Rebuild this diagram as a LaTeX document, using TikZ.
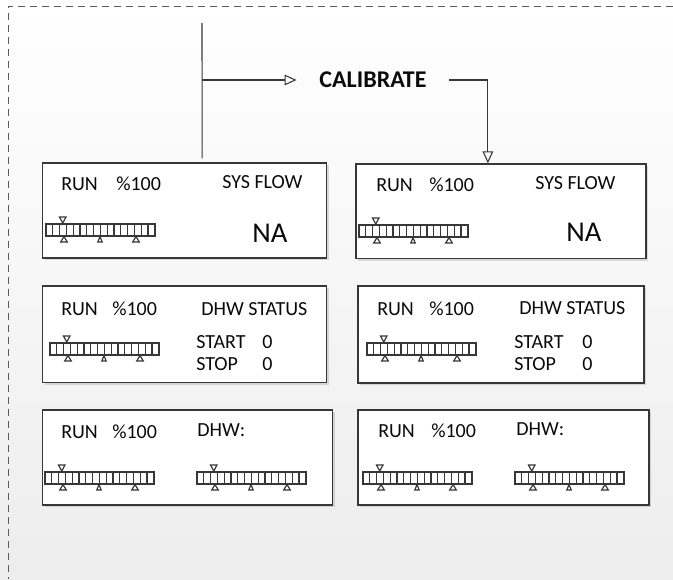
\documentclass[tikz,border=0pt]{standalone}
\usepackage{fontspec}
\setmainfont{Carlito}
\usepackage{xcolor}
\definecolor{frameGray}{RGB}{90,90,90}
\definecolor{lineGray}{RGB}{55,55,55}
\definecolor{bgGray}{RGB}{237,237,237}
\definecolor{inkBlack}{RGB}{10,10,10}
\usepackage{tikz}
\usetikzlibrary{arrows.meta,positioning,fit,shadows,calc}

\tikzset{
  panel/.style={draw=lineGray, line width=1pt, fill=white, inner sep=0pt,
    drop shadow={shadow xshift=1.8pt, shadow yshift=-1.8pt, opacity=0.22, fill=black!60}},
  lbl/.style={anchor=base west, inner sep=0pt, text=inkBlack, font=\fontsize{15}{18}\selectfont},
  bigval/.style={lbl, font=\fontsize{21.5}{25}\selectfont},
  calib/.style={inner xsep=17pt, inner ysep=0pt, text=inkBlack, font=\fontsize{18}{21}\selectfont\bfseries},
  wire/.style={draw=lineGray, line width=0.8pt},
  gauge/.pic={
    \draw[lineGray, line width=1.5pt] (0,0) -- (109,0);
    \draw[lineGray, line width=1pt] (0,0) rectangle (109,12);
    \foreach \k in {1,...,15}
      \draw[lineGray, line width=1pt] (\k*6.8,0) -- (\k*6.8,12);
    \draw[lineGray, line width=0.9pt] (13.5,-7) -- (20,-7) -- (16.75,-1) -- cycle;
    \foreach \m/\w in {18/3.3, 54/2.2, 90/3.3}
      \draw[lineGray, line width=0.9pt, fill=white] (\m-\w,18) -- (\m+\w,18) -- (\m,12.5) -- cycle;
  }
}

\begin{document}
\begin{tikzpicture}[x=0.75pt, y=-0.75pt]
  \useasboundingbox (0,0) rectangle (673,579);
  \fill[top color=white, bottom color=bgGray] (0,0) rectangle (673,579);
  \draw[frameGray, dash pattern=on 5.5pt off 3.5pt, line width=0.6pt] (673,6) -- (8,6) -- (8,579);

  % display panels
  \node[panel, fit={(42.7,163) (326.7,258)}] (sysL) {};
  \node[panel, fit={(356,164) (646,258.7)}] (sysR) {};
  \node[panel, fit={(42.7,286) (326.7,382.7)}] (dhwL) {};
  \node[panel, fit={(358,286) (644,383)}] (dhwR) {};
  \node[panel, fit={(42.7,410) (332.7,505)}] (mixL) {};
  \node[panel, fit={(358,410) (649,505)}] (mixR) {};

  % calibrate branch
  \coordinate (feed) at (202,23);
  \coordinate (split) at (202,80);
  \node[calib] (cal) at (373,80) {CALIBRATE};
  \draw[wire, shorten >=3pt] (feed) -- ($(sysL.north west)!0.561!(sysL.north east)$);
  \draw[wire, -{Triangle[open, length=9pt, width=8pt]}] (split) -- (cal.west);
  \draw[wire, -{Triangle[open, length=9pt, width=8pt]}] (cal.east) -| ($(sysR.north west)!0.455!(sysR.north east)$);

  % row 1
  \node[lbl] (sysLrun) at (61,190) {RUN};
  \node[lbl] (sysLpct) at (116,190) {\%100};
  \node[lbl] (sysLtitle) at (222,188) {SYS FLOW};
  \node[bigval] (sysLval) at (252,242) {NA};
  \pic at (46,224) {gauge};
  \node[lbl] (sysRrun) at (376,191.5) {RUN};
  \node[lbl] (sysRpct) at (429,191.5) {\%100};
  \node[lbl] (sysRtitle) at (535,189) {SYS FLOW};
  \node[bigval] (sysRval) at (566,241.5) {NA};
  \pic at (359,225) {gauge};

  % row 2
  \node[lbl] (dhwLrun) at (61,315) {RUN};
  \node[lbl] (dhwLpct) at (112,315) {\%100};
  \node[lbl] (dhwLtitle) at (201,315) {DHW STATUS};
  \node[lbl] (dhwLstart) at (196,348) {START};
  \node[lbl] (dhwLstop) at (196,370.7) {STOP};
  \node[lbl] (dhwLstartv) at (262,348) {0};
  \node[lbl] (dhwLstopv) at (262,370.7) {0};
  \pic at (50,343) {gauge};
  \node[lbl] (dhwRrun) at (377,315) {RUN};
  \node[lbl] (dhwRpct) at (429,315) {\%100};
  \node[lbl] (dhwRtitle) at (519,314) {DHW STATUS};
  \node[lbl] (dhwRstart) at (514,348) {START};
  \node[lbl] (dhwRstop) at (514,370.7) {STOP};
  \node[lbl] (dhwRstartv) at (582,348) {0};
  \node[lbl] (dhwRstopv) at (582,370.7) {0};
  \pic at (367,343) {gauge};

  % row 3
  \node[lbl] (mixLrun) at (61,438) {RUN};
  \node[lbl] (mixLpct) at (112,438) {\%100};
  \node[lbl] (mixLtitle) at (197,436.7) {DHW:};
  \pic at (45,472) {gauge};
  \pic at (197,472) {gauge};
  \node[lbl] (mixRrun) at (378,437.7) {RUN};
  \node[lbl] (mixRpct) at (431,437.7) {\%100};
  \node[lbl] (mixRtitle) at (516,435.7) {DHW:};
  \pic at (363,472) {gauge};
  \pic at (515,472) {gauge};
\end{tikzpicture}
\end{document}
